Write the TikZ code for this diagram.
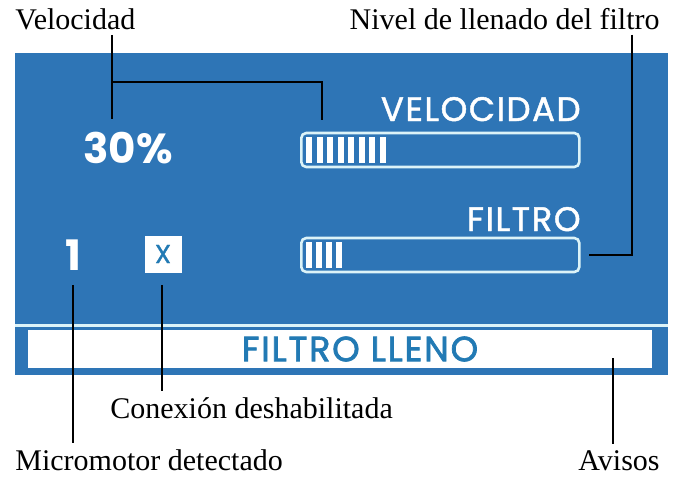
\documentclass[tikz,border=0pt]{standalone}
\usepackage{fontspec}
\setmainfont{Liberation Serif}
\newfontfamily\panelfont{Poppins}
\newfontfamily\panelmed{Poppins}[FakeBold=1.3, LetterSpace=4.5]
\newfontfamily\warnfont{Poppins}[FakeBold=2, LetterSpace=5]
\usetikzlibrary{positioning,calc}
\definecolor{panelblue}{RGB}{46,117,182}
\definecolor{glowline}{RGB}{220,243,248}
\definecolor{warnblue}{RGB}{34,122,180}
\tikzset{
  callout/.style={font=\fontsize{15}{17}\selectfont, inner sep=0pt},
  leader/.style={black, line width=0.8pt},
  paneltext/.style={font=\panelfont\bfseries, text=white, inner sep=0pt},
  barframe/.style={draw=glowline, line width=1.3pt, rounded corners=2.5pt,
    minimum width=139pt, minimum height=17pt, inner sep=0pt, anchor=west},
  tickbar/.style={fill=white, draw=none}
}
\begin{document}
\begin{tikzpicture}[x=0.5pt,y=-0.5pt]
\useasboundingbox (0,0) rectangle (675,478);
% display panel
\fill[panelblue] (15,53) rectangle (668,375);
\draw[glowline, line width=1.5pt] (15,325) -- (668,325);
% bars
\node[barframe] (velbar) at (300,150) {};
\node[barframe] (filbar) at (300,255) {};
\foreach \i in {0,...,7}
  \fill[tickbar] ($(velbar.west)+(6+\i*10.5,-13)$) rectangle ++(6,26);
\foreach \i in {0,...,3}
  \fill[tickbar] ($(filbar.west)+(6+\i*10,-13)$) rectangle ++(6,26);
% panel texts
\node[paneltext, font=\panelmed\fontsize{17}{18}\selectfont, anchor=base east] (veltitle) at (581,121) {VELOCIDAD};
\node[paneltext, font=\panelmed\fontsize{17}{18}\selectfont, anchor=base east] (filtitle) at (581,231) {FILTRO};
\node[paneltext, font=\panelfont\bfseries\fontsize{21}{22}\selectfont, anchor=base] (pct) at (128,163) {30\%};
\node[paneltext, font=\panelfont\bfseries\fontsize{21}{22}\selectfont, anchor=base] (motor) at (73,270) {1};
\node[fill=white, text=warnblue, minimum size=18.5pt, inner sep=0pt,
  font=\panelmed\fontsize{13}{14}\selectfont] (conn) at (163,254) {X};
\node[fill=white, minimum width=312pt, minimum height=19pt, inner sep=0pt] (warnbox) at (340,349) {};
\node[text=warnblue, inner sep=0pt, font=\warnfont\fontsize{17.5}{18}\selectfont,
  xshift=10pt] (warn) at (warnbox.center) {FILTRO LLENO};
% labels
\node[callout, anchor=base west] (lblvel) at (15,29) {Velocidad};
\node[callout, anchor=base east] (lblfil) at (660,29) {Nivel de llenado del filtro};
\node[callout, anchor=base west] (lblconn) at (110,418) {Conexión deshabilitada};
\node[callout, anchor=base west] (lblmotor) at (15,470) {Micromotor detectado};
\node[callout, anchor=base east] (lblwarn) at (660,470) {Avisos};
% leader lines
\coordinate (velsplit) at (112,82);
\coordinate (velend) at (322,120);
\draw[leader] ($(velsplit |- lblvel.south)+(0,5)$) -- ($(velsplit |- pct.north)+(0,-12)$);
\draw[leader] (velsplit) -| (velend);
\coordinate (filcorner) at (632,255);
\draw[leader] ($(filcorner |- lblfil.south)+(0,5)$) -- (filcorner) -- ($(filbar.east)+(8,0)$);
\draw[leader] ($(conn.south)+(-1,12)$) -- ($(conn.south |- lblconn.north)+(-1,-6)$);
\draw[leader] ($(motor.south)+(0,15)$) -- ($(motor.south |- lblmotor.north)+(0,-6)$);
\coordinate (warnend) at (613,358);
\draw[leader] (warnend) -- ($(warnend |- lblwarn.north)+(0,-6)$);
\end{tikzpicture}
\end{document}
